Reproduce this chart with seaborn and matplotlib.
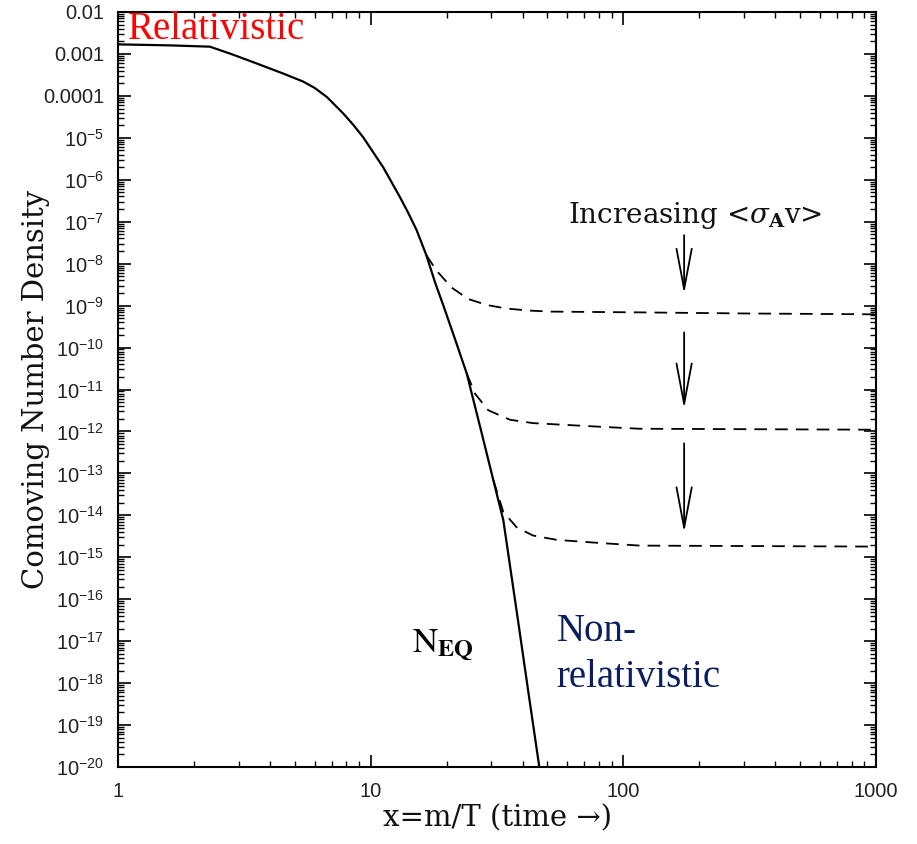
import numpy as np
import pandas as pd
import matplotlib
matplotlib.use("Agg")
import matplotlib.pyplot as plt
import seaborn as sns
from matplotlib.ticker import LogLocator, NullFormatter

# ---------------- data ----------------
eq_x = [1.0, 1.6, 2.31, 2.8, 3.42, 4.51, 5.4, 6.0, 6.71, 7.79, 8.5, 9.33, 11.2,
        13.06, 14.1, 15.2, 16.6, 18.0, 19.4, 21.6, 24.0, 27.1, 30.6, 33.5,
        38.3, 42.0, 46.5]
eq_y = [1.69e-3, 1.6e-3, 1.49e-3, 1.0e-3, 6.4e-4, 3.4e-4, 2.2e-4, 1.55e-4,
        9.4e-5, 3.8e-5, 2.1e-5, 1.04e-5, 2.0e-6, 3.85e-7, 1.6e-7, 6.3e-8,
        1.6e-8, 3.5e-9, 1.0e-9, 1.55e-10, 2.4e-11, 1.3e-12, 6.8e-14, 7.6e-15,
        3.1e-17, 6.6e-19, 1.0e-20]

f1_x = [16.6, 18.2, 20.9, 24.3, 28.9, 34.5, 42.7, 51.2, 116, 300, 1000]
f1_y = [1.6e-8, 6.9e-9, 2.7e-9, 1.44e-9, 1.03e-9, 8.5e-10, 7.6e-10, 7.2e-10,
        6.9e-10, 6.5e-10, 6.2e-10]

f2_x = [24.0, 25.9, 29.2, 35.6, 43.9, 54.6, 80, 116, 1000]
f2_y = [2.4e-11, 7.9e-12, 3.2e-12, 1.9e-12, 1.58e-12, 1.47e-12, 1.3e-12,
        1.16e-12, 1.1e-12]

f3_x = [30.6, 33.5, 37.8, 43.9, 54.6, 80, 116, 1000]
f3_y = [6.8e-14, 1.2e-14, 5.2e-15, 3.3e-15, 2.6e-15, 2.2e-15, 1.9e-15, 1.8e-15]

# arrows: (x, tail y, tip y)
arrow_x = [174, 174, 174]
arrow_tail = [4.8e-8, 2.3e-10, 5.2e-13]
arrow_tip = [1.9e-9, 3.5e-12, 3.9e-15]

x_ticks = [1, 10, 100, 1000]
x_tick_labels = ["1", "10", "100", "1000"]
y_ticks = [10.0 ** (-k) for k in range(2, 21)]
y_tick_labels = ["0.01", "0.001", "0.0001"] + [
    r"$\mathregular{10^{-%d}}$" % k for k in range(5, 21)]

# ---------------- style ----------------
sns.set_theme(style="ticks")
plt.rcParams["font.family"] = ["Liberation Sans", "DejaVu Sans"]

fig = plt.figure(figsize=(9.17, 8.44), dpi=100)
ax = fig.add_axes([0.1287, 0.0912, 0.8266, 0.8946])

df_eq = pd.DataFrame({"x": eq_x, "y": eq_y})
sns.lineplot(data=df_eq, x="x", y="y", ax=ax, color="black", lw=1.6,
             sort=False, estimator=None)
for fx, fy in [(f1_x, f1_y), (f2_x, f2_y), (f3_x, f3_y)]:
    d = pd.DataFrame({"x": fx, "y": fy})
    sns.lineplot(data=d, x="x", y="y", ax=ax, color="black", lw=1.3,
                 sort=False, estimator=None, linestyle=(0, (7, 4.5)))

ax.set_xscale("log")
ax.set_yscale("log")
ax.set_xlim(1, 1000)
ax.set_ylim(1e-20, 1e-2)

ax.set_xticks(x_ticks, x_tick_labels)
ax.set_yticks(y_ticks, y_tick_labels)
ax.xaxis.set_minor_locator(LogLocator(base=10, subs=np.arange(2, 10), numticks=100))
ax.yaxis.set_minor_locator(LogLocator(base=10, subs=np.arange(2, 10), numticks=200))
ax.xaxis.set_minor_formatter(NullFormatter())
ax.yaxis.set_minor_formatter(NullFormatter())

ax.tick_params(which="both", direction="in", top=True, right=True, color="black",
               labelcolor="#222222")
ax.tick_params(which="major", length=9, width=1.2, labelsize=14.5)
ax.tick_params(axis="y", which="major", pad=10)
ax.tick_params(axis="x", which="major", pad=11)
ax.tick_params(which="minor", length=4.5, width=1.0)
for s in ax.spines.values():
    s.set_linewidth(1.5)
    s.set_color("black")

ax.set_xlabel("x=m/T (time \u2192)", fontsize=21, family="DejaVu Serif",
              color="#111111")
ax.set_ylabel("Comoving Number Density", fontsize=21, family="DejaVu Serif",
              color="#111111")
ax.xaxis.set_label_coords(0.5, -0.05)
ax.yaxis.set_label_coords(-0.09, 0.5)

# ---------------- annotations ----------------
ax.text(1.096, 2.27e-3, "Relativistic", color="red", fontsize=28,
        family="Liberation Serif", va="baseline", ha="left")
ax.text(54.5, 1.0e-17, "Non-", color="#0b1f5e", fontsize=28,
        family="Liberation Serif", va="baseline", ha="left")
ax.text(54.5, 8.1e-19, "relativistic", color="#0b1f5e", fontsize=28,
        family="Liberation Serif", va="baseline", ha="left")
ax.text(14.6, 5.4e-18, r"$\mathrm{N}_{\mathbf{EQ}}$", fontsize=25,
        math_fontfamily="stix", va="baseline", ha="left", color="black")
ax.text(60.4, 9.2e-8, r"Increasing <$\sigma_{\mathbf{A}}$v>", fontsize=20,
        family="DejaVu Serif", math_fontfamily="dejavuserif",
        va="baseline", ha="left", color="#111111")

for xa, yt, yh in zip(arrow_x, arrow_tail, arrow_tip):
    ax.annotate("", xy=(xa, yh), xytext=(xa, yt),
                arrowprops=dict(arrowstyle="->,head_length=2.9,head_width=0.55",
                                mutation_scale=10, lw=1.3, color="black",
                                shrinkA=0, shrinkB=0))

fig.savefig("out.png", dpi=100)
